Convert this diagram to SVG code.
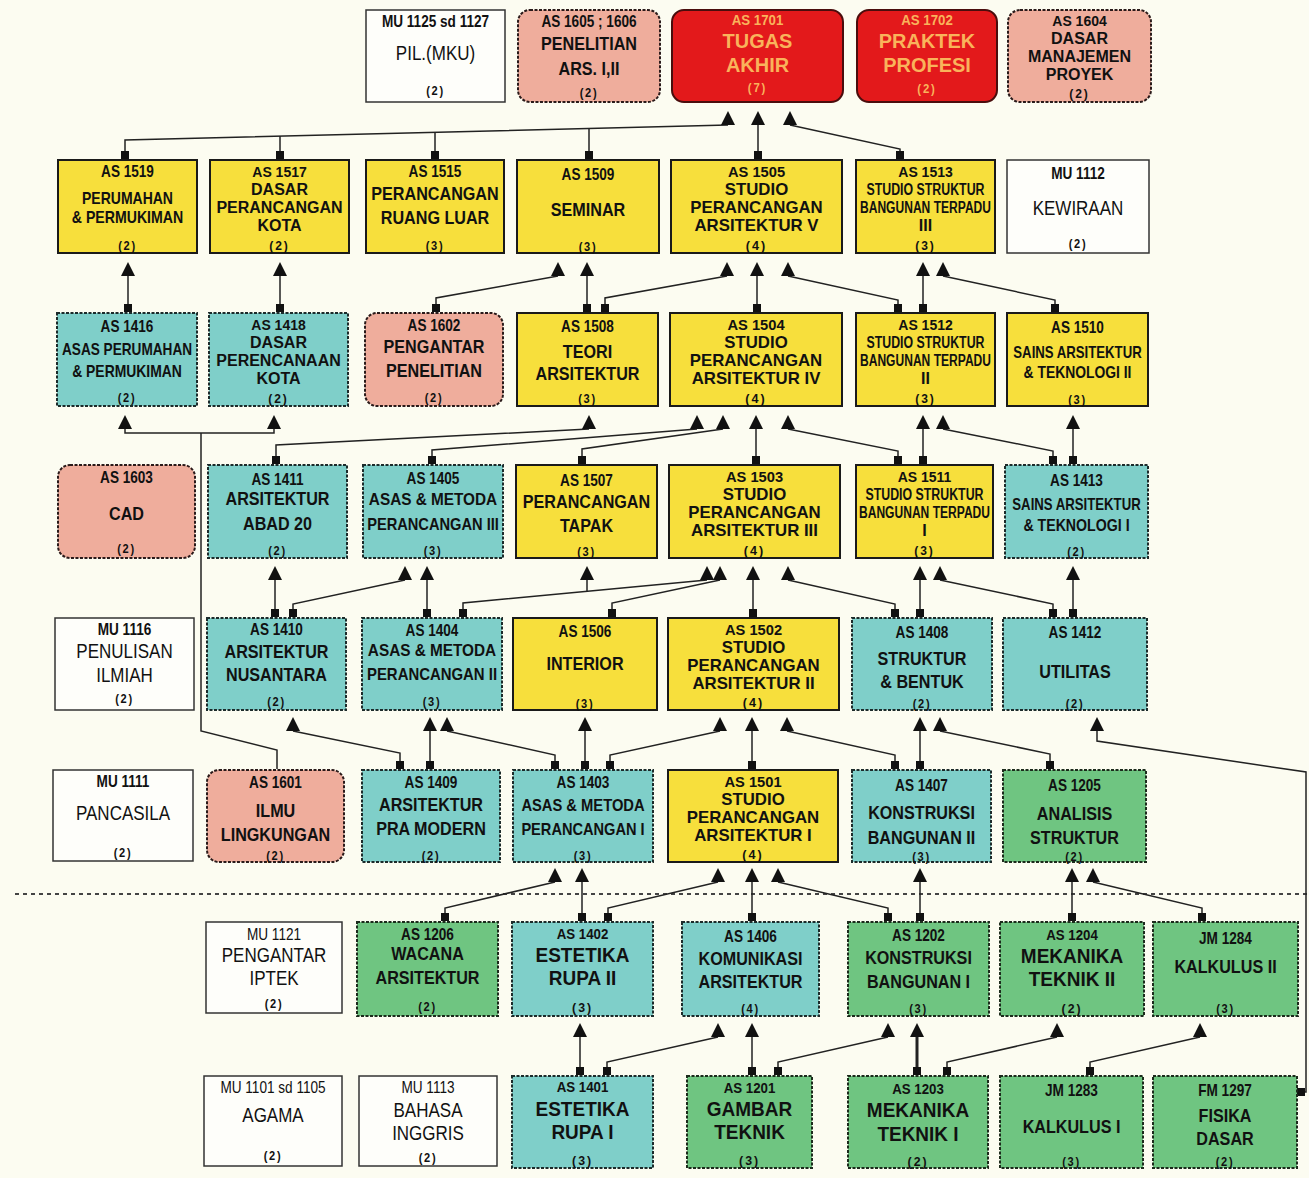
<svg xmlns="http://www.w3.org/2000/svg" width="1309" height="1178" viewBox="0 0 1309 1178">
<defs>
<style>
.y{fill:#f7df3c;stroke:#1a1a1a;stroke-width:2}
.tl{fill:#7fcfc9;stroke:#1c2b2b;stroke-width:2;stroke-dasharray:3 1.5}
.gr{fill:#6fc581;stroke:#1c2b1c;stroke-width:2;stroke-dasharray:3 1.5}
.pk{fill:#efad9c;stroke:#2a1a1a;stroke-width:2;stroke-dasharray:3 1.5}
.rd{fill:#e3191b;stroke:#4a0d0d;stroke-width:2}
.wh{fill:#fefefa;stroke:#333;stroke-width:1.5}
text{font-family:"Liberation Sans",Arial,sans-serif;text-anchor:middle;fill:#111}
.c{font-size:16px;font-weight:bold}
.c2{font-size:14px;font-weight:bold}
.cw{font-size:16px}
.t{font-size:19px;font-weight:bold}
.t2{font-size:16px;font-weight:bold}
.T{font-size:20px;font-weight:bold}
.R{font-size:21px;font-weight:bold}
.s{font-size:16px;font-weight:bold}
.w{font-size:20px}
.n{font-size:13px;font-weight:bold;letter-spacing:2px}
.n2{font-size:12px;font-weight:bold;letter-spacing:2px}
.o text{fill:#f9b35b}
.cn path{fill:none;stroke:#222;stroke-width:1.5}
.cn .sq{marker-start:url(#sq)}
.cn .ae{marker-end:url(#ar)}
.sep{stroke:#444;stroke-width:2;stroke-dasharray:4 4}
</style>
<marker id="ar" markerUnits="userSpaceOnUse" markerWidth="16" markerHeight="16" refX="7" refY="14" orient="0"><path d="M7,0 L14,14 L0,14 Z" fill="#111"/></marker>
<marker id="sq" markerUnits="userSpaceOnUse" markerWidth="10" markerHeight="10" refX="4" refY="4" orient="0"><rect width="8" height="8" fill="#111"/></marker>
</defs>
<rect width="1309" height="1178" fill="#fcfcf1"/>
<line class="sep" x1="15" y1="894" x2="1309" y2="894"/>

<g id="connectors" class="cn">
<path class="sq ae" d="M125,155 V140 L728,125"/>
<path class="sq" d="M280,155 V136"/>
<path class="sq" d="M435,155 V132"/>
<path class="sq" d="M589,155 V129"/>
<path class="sq ae" d="M758,155 V125"/>
<path class="sq ae" d="M900,155 V149 L790,125"/>

<path class="sq ae" d="M128,308 V276"/>
<path class="sq ae" d="M280,308 V276"/>
<path class="sq ae" d="M436,308 V298 L558,276"/>
<path class="sq ae" d="M587,308 V276"/>
<path class="sq ae" d="M605,308 V298 L727,276"/>
<path class="sq ae" d="M757,308 V276"/>
<path class="sq ae" d="M898,308 V300 L788,276"/>
<path class="sq ae" d="M923,308 V276"/>
<path class="sq ae" d="M1055,308 V300 L943,276"/>

<path class="sq ae" d="M276,460 V445 L589,429"/>
<path class="sq ae" d="M432,460 V450 L697,429"/>
<path class="sq ae" d="M582,460 V449 L723,429"/>
<path class="sq ae" d="M756,460 V429"/>
<path class="sq ae" d="M898,460 V451 L788,429"/>
<path class="sq ae" d="M923,460 V429"/>
<path class="sq ae" d="M1053,460 V451 L943,429"/>
<path class="sq ae" d="M1073,460 V429"/>

<path class="sq ae" d="M275,613 V580"/>
<path class="sq ae" d="M293,613 V604 L405,580"/>
<path class="sq ae" d="M427,613 V580"/>
<path class="sq ae" d="M463,613 V603 L707,580"/>
<path class="ae" d="M587,591 V580"/>
<path class="sq ae" d="M612,613 V603 L720,580"/>
<path class="sq ae" d="M753,613 V580"/>
<path class="sq ae" d="M895,613 V604 L788,580"/>
<path class="sq ae" d="M920,613 V580"/>
<path class="sq ae" d="M1053,613 V604 L940,580"/>
<path class="sq ae" d="M1073,613 V580"/>

<path class="sq ae" d="M400,765 V753 L293,731"/>
<path class="sq ae" d="M430,765 V731"/>
<path class="sq ae" d="M555,765 V755 L447,731"/>
<path class="sq ae" d="M585,765 V731"/>
<path class="sq ae" d="M610,765 V755 L720,731"/>
<path class="sq ae" d="M752,765 V731"/>
<path class="sq ae" d="M895,765 V755 L787,731"/>
<path class="sq ae" d="M920,765 V731"/>
<path class="sq ae" d="M1050,765 V754 L940,731"/>
<path class="sq ae" d="M1301,1092 H1306 V772 L1097,741 V731"/>
<path d="M277,769 V750 L201,731 V433"/>
<path d="M125,429 V433 H274 V429" marker-start="url(#ar)" marker-end="url(#ar)"/>

<path class="sq ae" d="M445,917 V908 L555,882"/>
<path class="sq ae" d="M582,917 V882"/>
<path class="sq ae" d="M608,917 V908 L718,882"/>
<path class="sq ae" d="M752,917 V882"/>
<path class="sq ae" d="M888,917 V908 L778,882"/>
<path class="sq ae" d="M920,917 V882"/>
<path class="sq ae" d="M1072,917 V882"/>
<path class="sq ae" d="M1202,917 V908 L1093,882"/>

<path class="sq ae" d="M580,1071 V1037"/>
<path class="sq ae" d="M607,1071 V1062 L718,1037"/>
<path class="sq ae" d="M752,1071 V1037"/>
<path class="sq ae" d="M778,1071 V1062 L888,1037"/>
<path class="sq ae" d="M917,1071 V1037" style="stroke-width:3"/>
<path class="sq ae" d="M947,1071 V1062 L1057,1037"/>
<path class="sq ae" d="M1090,1071 V1062 L1200,1037"/>
</g>

<g id="nodes">
<!-- Row 1 -->
<g id="mu1125"><rect class="wh" x="366" y="10" width="139" height="92"/><g transform="translate(435.5 0) scale(0.85 1)"><text class="c" y="27">MU 1125 sd 1127</text><text class="w" y="60">PIL.(MKU)</text><text class="n" y="95">(2)</text></g></g>
<g id="as1605"><rect class="pk" x="518" y="10" width="142" height="92" rx="12"/><g transform="translate(589 0) scale(0.85 1)"><text class="c" y="27">AS 1605 ; 1606</text><text class="t" y="50">PENELITIAN</text><text class="t" y="75">ARS. I,II</text><text class="n" y="97">(2)</text></g></g>
<g id="as1701" class="o"><rect class="rd" x="672" y="10" width="171" height="92" rx="12"/><g transform="translate(757.5 0) scale(0.95 1)"><text class="c2" y="25">AS 1701</text><text class="R" y="48">TUGAS</text><text class="R" y="72">AKHIR</text><text class="n2" y="92">(7)</text></g></g>
<g id="as1702" class="o"><rect class="rd" x="857" y="10" width="140" height="92" rx="12"/><g transform="translate(927 0) scale(0.95 1)"><text class="c2" y="25">AS 1702</text><text class="R" y="48">PRAKTEK</text><text class="R" y="72">PROFESI</text><text class="n2" y="93">(2)</text></g></g>
<g id="as1604"><rect class="pk" x="1008" y="10" width="143" height="92" rx="12"/><g transform="translate(1079.5 0) scale(1 1)"><text class="c2" y="26">AS 1604</text><text class="t2" y="44">DASAR</text><text class="t2" y="62">MANAJEMEN</text><text class="t2" y="80">PROYEK</text><text class="n2" y="98">(2)</text></g></g>

<!-- Row 2 -->
<g id="as1519"><rect class="y" x="58" y="160" width="139" height="93"/><g transform="translate(127.5 0) scale(0.85 1)"><text class="c" y="177">AS 1519</text><text class="s" y="204" textLength="107" lengthAdjust="spacingAndGlyphs">PERUMAHAN</text><text class="s" y="223" textLength="131" lengthAdjust="spacingAndGlyphs">&amp; PERMUKIMAN</text><text class="n" y="250">(2)</text></g></g>
<g id="as1517"><rect class="y" x="210" y="160" width="139" height="93"/><g transform="translate(279.5 0) scale(1 1)"><text class="c2" y="177">AS 1517</text><text class="t2" y="195">DASAR</text><text class="t2" y="213">PERANCANGAN</text><text class="t2" y="231">KOTA</text><text class="n2" y="250">(2)</text></g></g>
<g id="as1515"><rect class="y" x="366" y="160" width="138" height="93"/><g transform="translate(435 0) scale(0.85 1)"><text class="c" y="177">AS 1515</text><text class="t" y="200">PERANCANGAN</text><text class="t" y="224">RUANG LUAR</text><text class="n" y="250">(3)</text></g></g>
<g id="as1509"><rect class="y" x="517" y="160" width="142" height="93"/><g transform="translate(588 0) scale(0.85 1)"><text class="c" y="180">AS 1509</text><text class="t" y="216">SEMINAR</text><text class="n" y="251">(3)</text></g></g>
<g id="as1505"><rect class="y" x="671" y="160" width="171" height="93"/><g transform="translate(756.5 0) scale(1.05 1)"><text class="c2" y="177">AS 1505</text><text class="t2" y="195">STUDIO</text><text class="t2" y="213">PERANCANGAN</text><text class="t2" y="231">ARSITEKTUR V</text><text class="n2" y="250">(4)</text></g></g>
<g id="as1513"><rect class="y" x="856" y="160" width="139" height="93"/><g transform="translate(925.5 0) scale(1 1)"><text class="c2" y="177">AS 1513</text><text class="t2" y="195" textLength="118" lengthAdjust="spacingAndGlyphs">STUDIO STRUKTUR</text><text class="t2" y="213" textLength="131" lengthAdjust="spacingAndGlyphs">BANGUNAN TERPADU</text><text class="t2" y="231">III</text><text class="n2" y="250">(3)</text></g></g>
<g id="mu1112"><rect class="wh" x="1007" y="160" width="142" height="93"/><g transform="translate(1078 0) scale(0.85 1)"><text class="c" y="179">MU 1112</text><text class="w" y="215">KEWIRAAN</text><text class="n" y="248">(2)</text></g></g>

<!-- Row 3 -->
<g id="as1416"><rect class="tl" x="57" y="313" width="140" height="93"/><g transform="translate(127 0) scale(0.85 1)"><text class="c" y="332">AS 1416</text><text class="s" y="355" textLength="153" lengthAdjust="spacingAndGlyphs">ASAS PERUMAHAN</text><text class="s" y="377" textLength="129" lengthAdjust="spacingAndGlyphs">&amp; PERMUKIMAN</text><text class="n" y="402">(2)</text></g></g>
<g id="as1418"><rect class="tl" x="209" y="313" width="139" height="93"/><g transform="translate(278.5 0) scale(1 1)"><text class="c2" y="330">AS 1418</text><text class="t2" y="348">DASAR</text><text class="t2" y="366">PERENCANAAN</text><text class="t2" y="384">KOTA</text><text class="n2" y="403">(2)</text></g></g>
<g id="as1602"><rect class="pk" x="365" y="313" width="138" height="93" rx="12"/><g transform="translate(434 0) scale(0.85 1)"><text class="c" y="331">AS 1602</text><text class="t" y="353">PENGANTAR</text><text class="t" y="377">PENELITIAN</text><text class="n" y="402">(2)</text></g></g>
<g id="as1508"><rect class="y" x="517" y="313" width="141" height="93"/><g transform="translate(587.5 0) scale(0.85 1)"><text class="c" y="332">AS 1508</text><text class="t" y="358">TEORI</text><text class="t" y="380">ARSITEKTUR</text><text class="n" y="403">(3)</text></g></g>
<g id="as1504"><rect class="y" x="670" y="313" width="172" height="93"/><g transform="translate(756 0) scale(1.05 1)"><text class="c2" y="330">AS 1504</text><text class="t2" y="348">STUDIO</text><text class="t2" y="366">PERANCANGAN</text><text class="t2" y="384">ARSITEKTUR IV</text><text class="n2" y="403">(4)</text></g></g>
<g id="as1512"><rect class="y" x="856" y="313" width="139" height="93"/><g transform="translate(925.5 0) scale(1 1)"><text class="c2" y="330">AS 1512</text><text class="t2" y="348" textLength="118" lengthAdjust="spacingAndGlyphs">STUDIO STRUKTUR</text><text class="t2" y="366" textLength="131" lengthAdjust="spacingAndGlyphs">BANGUNAN TERPADU</text><text class="t2" y="384">II</text><text class="n2" y="403">(3)</text></g></g>
<g id="as1510"><rect class="y" x="1007" y="313" width="141" height="93"/><g transform="translate(1077.5 0) scale(0.85 1)"><text class="c" y="333">AS 1510</text><text class="s" y="358" textLength="151" lengthAdjust="spacingAndGlyphs">SAINS ARSITEKTUR</text><text class="s" y="378" textLength="127" lengthAdjust="spacingAndGlyphs">&amp; TEKNOLOGI II</text><text class="n" y="404">(3)</text></g></g>

<!-- Row 4 -->
<g id="as1603"><rect class="pk" x="58" y="465" width="137" height="93" rx="12"/><g transform="translate(126.5 0) scale(0.85 1)"><text class="c" y="483">AS 1603</text><text class="t" y="520">CAD</text><text class="n" y="553">(2)</text></g></g>
<g id="as1411"><rect class="tl" x="208" y="465" width="139" height="93"/><g transform="translate(277.5 0) scale(0.85 1)"><text class="c" y="485">AS 1411</text><text class="t" y="505">ARSITEKTUR</text><text class="t" y="530">ABAD 20</text><text class="n" y="555">(2)</text></g></g>
<g id="as1405"><rect class="tl" x="363" y="465" width="140" height="93"/><g transform="translate(433 0) scale(0.85 1)"><text class="c" y="484">AS 1405</text><text class="s" y="505" textLength="151" lengthAdjust="spacingAndGlyphs">ASAS &amp; METODA</text><text class="s" y="530" textLength="155" lengthAdjust="spacingAndGlyphs">PERANCANGAN III</text><text class="n" y="555">(3)</text></g></g>
<g id="as1507"><rect class="y" x="516" y="465" width="141" height="93"/><g transform="translate(586.5 0) scale(0.85 1)"><text class="c" y="486">AS 1507</text><text class="t" y="508">PERANCANGAN</text><text class="t" y="532">TAPAK</text><text class="n" y="556">(3)</text></g></g>
<g id="as1503"><rect class="y" x="669" y="465" width="171" height="93"/><g transform="translate(754.5 0) scale(1.05 1)"><text class="c2" y="482">AS 1503</text><text class="t2" y="500">STUDIO</text><text class="t2" y="518">PERANCANGAN</text><text class="t2" y="536">ARSITEKTUR III</text><text class="n2" y="555">(4)</text></g></g>
<g id="as1511"><rect class="y" x="856" y="465" width="137" height="93"/><g transform="translate(924.5 0) scale(1 1)"><text class="c2" y="482">AS 1511</text><text class="t2" y="500" textLength="118" lengthAdjust="spacingAndGlyphs">STUDIO STRUKTUR</text><text class="t2" y="518" textLength="131" lengthAdjust="spacingAndGlyphs">BANGUNAN TERPADU</text><text class="t2" y="536">I</text><text class="n2" y="555">(3)</text></g></g>
<g id="as1413"><rect class="tl" x="1005" y="465" width="143" height="93"/><g transform="translate(1076.5 0) scale(0.85 1)"><text class="c" y="486">AS 1413</text><text class="s" y="510" textLength="151" lengthAdjust="spacingAndGlyphs">SAINS ARSITEKTUR</text><text class="s" y="531" textLength="125" lengthAdjust="spacingAndGlyphs">&amp; TEKNOLOGI I</text><text class="n" y="556">(2)</text></g></g>

<!-- Row 5 -->
<g id="mu1116"><rect class="wh" x="55" y="618" width="139" height="92"/><g transform="translate(124.5 0) scale(0.85 1)"><text class="c" y="635">MU 1116</text><text class="w" y="658">PENULISAN</text><text class="w" y="682">ILMIAH</text><text class="n" y="703">(2)</text></g></g>
<g id="as1410"><rect class="tl" x="207" y="618" width="139" height="92"/><g transform="translate(276.5 0) scale(0.85 1)"><text class="c" y="635">AS 1410</text><text class="t" y="658">ARSITEKTUR</text><text class="t" y="681">NUSANTARA</text><text class="n" y="706">(2)</text></g></g>
<g id="as1404"><rect class="tl" x="362" y="618" width="140" height="92"/><g transform="translate(432 0) scale(0.85 1)"><text class="c" y="636">AS 1404</text><text class="s" y="656" textLength="151" lengthAdjust="spacingAndGlyphs">ASAS &amp; METODA</text><text class="s" y="680" textLength="153" lengthAdjust="spacingAndGlyphs">PERANCANGAN II</text><text class="n" y="706">(3)</text></g></g>
<g id="as1506"><rect class="y" x="513" y="618" width="144" height="92"/><g transform="translate(585 0) scale(0.85 1)"><text class="c" y="637">AS 1506</text><text class="t" y="670">INTERIOR</text><text class="n" y="708">(3)</text></g></g>
<g id="as1502"><rect class="y" x="668" y="618" width="171" height="92"/><g transform="translate(753.5 0) scale(1.05 1)"><text class="c2" y="635">AS 1502</text><text class="t2" y="653">STUDIO</text><text class="t2" y="671">PERANCANGAN</text><text class="t2" y="689">ARSITEKTUR II</text><text class="n2" y="707">(4)</text></g></g>
<g id="as1408"><rect class="tl" x="852" y="618" width="140" height="92"/><g transform="translate(922 0) scale(0.85 1)"><text class="c" y="638">AS 1408</text><text class="t" y="665">STRUKTUR</text><text class="t" y="688">&amp; BENTUK</text><text class="n" y="708">(2)</text></g></g>
<g id="as1412"><rect class="tl" x="1003" y="618" width="144" height="92"/><g transform="translate(1075 0) scale(0.85 1)"><text class="c" y="638">AS 1412</text><text class="t" y="678">UTILITAS</text><text class="n" y="708">(2)</text></g></g>

<!-- Row 6 -->
<g id="mu1111"><rect class="wh" x="53" y="770" width="140" height="91"/><g transform="translate(123 0) scale(0.85 1)"><text class="c" y="787">MU 1111</text><text class="w" y="820">PANCASILA</text><text class="n" y="857">(2)</text></g></g>
<g id="as1601"><rect class="pk" x="207" y="770" width="137" height="92" rx="12"/><g transform="translate(275.5 0) scale(0.85 1)"><text class="c" y="788">AS 1601</text><text class="t" y="817">ILMU</text><text class="t" y="841">LINGKUNGAN</text><text class="n" y="860">(2)</text></g></g>
<g id="as1409"><rect class="tl" x="362" y="770" width="138" height="92"/><g transform="translate(431 0) scale(0.85 1)"><text class="c" y="788">AS 1409</text><text class="t" y="811">ARSITEKTUR</text><text class="t" y="835">PRA MODERN</text><text class="n" y="860">(2)</text></g></g>
<g id="as1403"><rect class="tl" x="513" y="770" width="140" height="92"/><g transform="translate(583 0) scale(0.85 1)"><text class="c" y="788">AS 1403</text><text class="s" y="811" textLength="145" lengthAdjust="spacingAndGlyphs">ASAS &amp; METODA</text><text class="s" y="835" textLength="145" lengthAdjust="spacingAndGlyphs">PERANCANGAN I</text><text class="n" y="860">(3)</text></g></g>
<g id="as1501"><rect class="y" x="668" y="770" width="170" height="92"/><g transform="translate(753 0) scale(1.05 1)"><text class="c2" y="787">AS 1501</text><text class="t2" y="805">STUDIO</text><text class="t2" y="823">PERANCANGAN</text><text class="t2" y="841">ARSITEKTUR I</text><text class="n2" y="859">(4)</text></g></g>
<g id="as1407"><rect class="tl" x="852" y="770" width="139" height="92"/><g transform="translate(921.5 0) scale(0.85 1)"><text class="c" y="791">AS 1407</text><text class="t" y="819">KONSTRUKSI</text><text class="t" y="844">BANGUNAN II</text><text class="n" y="861">(3)</text></g></g>
<g id="as1205"><rect class="gr" x="1003" y="770" width="143" height="92"/><g transform="translate(1074.5 0) scale(0.85 1)"><text class="c" y="791">AS 1205</text><text class="t" y="820">ANALISIS</text><text class="t" y="844">STRUKTUR</text><text class="n" y="861">(2)</text></g></g>

<!-- Row 7 -->
<g id="mu1121"><rect class="wh" x="206" y="922" width="136" height="91"/><g transform="translate(274 0) scale(0.85 1)"><text class="cw" y="940">MU 1121</text><text class="w" y="962">PENGANTAR</text><text class="w" y="985">IPTEK</text><text class="n" y="1008">(2)</text></g></g>
<g id="as1206"><rect class="gr" x="357" y="922" width="141" height="94"/><g transform="translate(427.5 0) scale(0.85 1)"><text class="c" y="940">AS 1206</text><text class="t" y="960">WACANA</text><text class="t" y="984">ARSITEKTUR</text><text class="n" y="1011">(2)</text></g></g>
<g id="as1402"><rect class="tl" x="512" y="922" width="141" height="94"/><g transform="translate(582.5 0) scale(0.95 1)"><text class="c2" y="939">AS 1402</text><text class="T" y="962">ESTETIKA</text><text class="T" y="985">RUPA II</text><text class="n" y="1012">(3)</text></g></g>
<g id="as1406"><rect class="tl" x="682" y="922" width="137" height="94"/><g transform="translate(750.5 0) scale(0.85 1)"><text class="c" y="942">AS 1406</text><text class="t" y="965">KOMUNIKASI</text><text class="t" y="988">ARSITEKTUR</text><text class="n" y="1013">(4)</text></g></g>
<g id="as1202"><rect class="gr" x="848" y="922" width="141" height="94"/><g transform="translate(918.5 0) scale(0.85 1)"><text class="c" y="941">AS 1202</text><text class="t" y="964">KONSTRUKSI</text><text class="t" y="988">BANGUNAN I</text><text class="n" y="1013">(3)</text></g></g>
<g id="as1204"><rect class="gr" x="1000" y="922" width="144" height="94"/><g transform="translate(1072 0) scale(0.95 1)"><text class="c2" y="940">AS 1204</text><text class="T" y="963">MEKANIKA</text><text class="T" y="986">TEKNIK II</text><text class="n" y="1013">(2)</text></g></g>
<g id="jm1284"><rect class="gr" x="1153" y="922" width="145" height="94"/><g transform="translate(1225.5 0) scale(0.85 1)"><text class="c" y="944">JM 1284</text><text class="t" y="973">KALKULUS II</text><text class="n" y="1013">(3)</text></g></g>

<!-- Row 8 -->
<g id="mu1101"><rect class="wh" x="204" y="1076" width="138" height="90"/><g transform="translate(273 0) scale(0.85 1)"><text class="cw" y="1093">MU 1101 sd 1105</text><text class="w" y="1122">AGAMA</text><text class="n" y="1160">(2)</text></g></g>
<g id="mu1113"><rect class="wh" x="359" y="1076" width="138" height="90"/><g transform="translate(428 0) scale(0.85 1)"><text class="cw" y="1093">MU 1113</text><text class="w" y="1117">BAHASA</text><text class="w" y="1140">INGGRIS</text><text class="n" y="1162">(2)</text></g></g>
<g id="as1401"><rect class="tl" x="512" y="1076" width="141" height="92"/><g transform="translate(582.5 0) scale(0.95 1)"><text class="c2" y="1092">AS 1401</text><text class="T" y="1116">ESTETIKA</text><text class="T" y="1139">RUPA I</text><text class="n" y="1165">(3)</text></g></g>
<g id="as1201"><rect class="gr" x="687" y="1076" width="125" height="92"/><g transform="translate(749.5 0) scale(0.95 1)"><text class="c2" y="1093">AS 1201</text><text class="T" y="1116">GAMBAR</text><text class="T" y="1139">TEKNIK</text><text class="n" y="1165">(3)</text></g></g>
<g id="as1203"><rect class="gr" x="848" y="1076" width="140" height="92"/><g transform="translate(918 0) scale(0.95 1)"><text class="c2" y="1094">AS 1203</text><text class="T" y="1117">MEKANIKA</text><text class="T" y="1141">TEKNIK I</text><text class="n" y="1166">(2)</text></g></g>
<g id="jm1283"><rect class="gr" x="1000" y="1076" width="143" height="92"/><g transform="translate(1071.5 0) scale(0.85 1)"><text class="c" y="1096">JM 1283</text><text class="t" y="1133">KALKULUS I</text><text class="n" y="1166">(3)</text></g></g>
<g id="fm1297"><rect class="gr" x="1153" y="1076" width="144" height="92"/><g transform="translate(1225 0) scale(0.85 1)"><text class="c" y="1096">FM 1297</text><text class="t" y="1122">FISIKA</text><text class="t" y="1145">DASAR</text><text class="n" y="1166">(2)</text></g></g>
</g>
</svg>
